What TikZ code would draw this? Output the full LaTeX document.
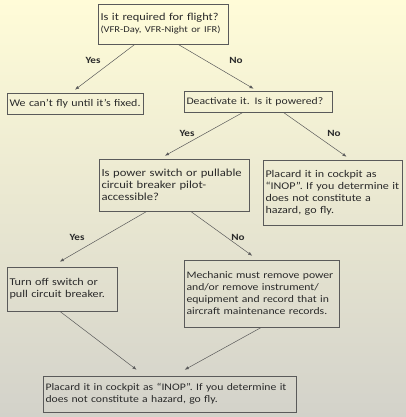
\documentclass[tikz,border=0pt]{standalone}
\usepackage{fontspec}
\setmainfont{Carlito}[FakeStretch=1.17]
\usepackage{xcolor}
\usepackage{tikz}
\usetikzlibrary{arrows.meta,calc,positioning,shapes}
\definecolor{bgtop}{HTML}{FFFCD8}
\definecolor{bgbot}{HTML}{D3D2CA}
\definecolor{boxgray}{HTML}{5A5A5A}
\definecolor{txtgray}{HTML}{2A2A2A}
\tikzset{box/.style={draw=boxgray, line width=.6pt, inner xsep=2.5pt, inner ysep=2pt,
                     align=left, text=txtgray, font=\fontsize{#1}{12}\selectfont},
         box/.default=10,
         ans/.style={text=txtgray, font=\bfseries\fontsize{9.5}{11}\selectfont},
         con/.style={draw=boxgray, line width=.5pt, -{Latex[length=4pt,width=3.2pt]}}}

\begin{document}
\begin{tikzpicture}[x=1pt,y=-1pt]
          % background
          \useasboundingbox (0,0) rectangle (406,417);
          \shade[top color=bgtop, bottom color=bgbot] (0,0) rectangle (406,417);
          % boxes
          \node[box=10.6, text width=125pt, minimum height=40pt] (flight) at (163,24)
               {Is it required for flight?\\{\fontsize{9}{11}\selectfont (VFR-Day, VFR-Night or IFR)}};
          \node[box=10.2, text width=131pt, minimum height=21pt] (nofly) at (75,103.5)
               {We can’t fly until it’s fixed.};
          \node[box, text width=143pt, minimum height=21pt] (powered) at (258,101.5)
               {Deactivate it. Is it powered?};
          \node[box=10.8, text width=145pt, minimum height=52pt] (access) at (174,185)
               {Is power switch or pullable\\circuit breaker pilot-\\accessible?};
          \node[box=10.3, text width=134pt, minimum height=65pt] (inop) at (332.5,192.5)
               {Placard it in cockpit as\\\mbox{“INOP”. If you determine it}\\does not constitute a\\hazard, go fly.};
          \node[box=10.4, text width=105pt, minimum height=44pt] (turnoff) at (62,289)
               {Turn off switch or\\pull circuit breaker.};
          \node[box, text width=150pt, minimum height=67pt] (mech) at (261.5,293.5)
               {Mechanic must remove power\\and/or remove instrument/\\equipment and record that in\\aircraft maintenance records.};
          \node[box, text width=248pt, minimum height=36pt] (final) at (169.5,394)
               {Placard it in cockpit as “INOP”. If you determine it\\does not constitute a hazard, go fly.};
          % connectors
          \draw[con] ($(flight.south west)!.285!(flight.south east)$) -- ($(nofly.north)+(0,-3)$);
          \draw[con] ($(flight.south west)!.615!(flight.south east)$) -- ($(powered.north west)!.47!(powered.north east)+(0,-2)$);
          \draw[con] ($(powered.south west)!.40!(powered.south east)$) -- ($(access.north west)!.44!(access.north east)+(0,-3)$);
          \draw[con] ($(powered.south west)!.67!(powered.south east)$) -- ($(inop.north west)!.60!(inop.north east)+(0,-3)$);
          \draw[con] ($(access.south west)!.32!(access.south east)$) -- ($(turnoff.north west)!.48!(turnoff.north east)+(0,-5)$);
          \draw[con] ($(access.south west)!.61!(access.south east)$) -- ($(mech.north west)!.44!(mech.north east)+(0,-4)$);
          \draw[con] ($(turnoff.south west)!.48!(turnoff.south east)$) -- ($(final.north west)!.37!(final.north east)+(0,-6)$);
          \draw[con] (mech.south) -- ($(final.north west)!.56!(final.north east)+(0,-6)$);
          % answers
          \node[ans] (y1) at (93,60) {Yes};
          \node[ans] (n1) at (236,60) {No};
          \node[ans] (y2) at (187,133) {Yes};
          \node[ans] (n2) at (334,133) {No};
          \node[ans] (y3) at (77,237) {Yes};
          \node[ans] (n3) at (238,237) {No};
\end{tikzpicture}
\end{document}
